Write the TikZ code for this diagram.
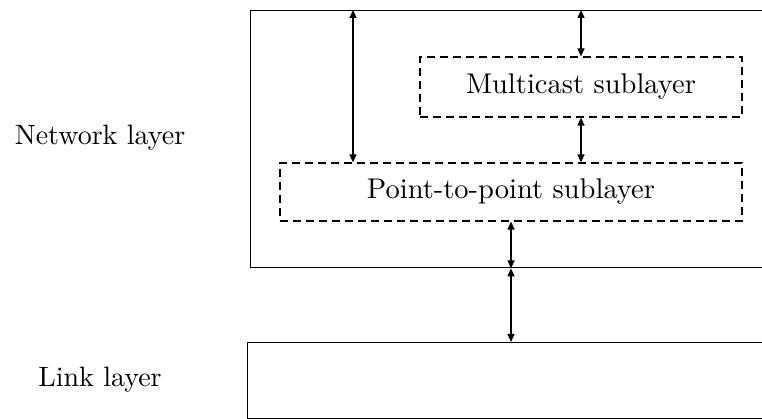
\documentclass[tikz,border=0pt]{standalone}
\usepackage{fontspec}
\newfontfamily\lmten{lmroman10-regular.otf}
\usetikzlibrary{arrows.meta}
\begin{document}
\begin{tikzpicture}[x=1pt,y=1pt,
  layerbox/.style={draw, line width=1.4pt, rectangle, inner sep=0pt},
  subbox/.style={draw, line width=1.2pt, dash pattern=on 8pt off 5pt, rectangle, inner sep=0pt, font=\lmten\fontsize{28.5}{32}\selectfont},
  lbl/.style={font=\lmten\fontsize{28}{32}\selectfont, inner sep=0pt},
  dbl/.style={line width=1.2pt, {Triangle[length=8pt,width=7pt]}-{Triangle[length=8pt,width=7pt]}}]
\clip (0,0) rectangle (762,419);
\useasboundingbox (0,0) rectangle (762,419);
\node[layerbox, minimum width=520pt, minimum height=257pt, anchor=north west] (net) at (250,409) {};
\node[layerbox, minimum width=523pt, minimum height=76pt, anchor=north west] (link) at (247,77) {};
\node[subbox, minimum width=322pt, minimum height=60pt] (mc) at (581,332) {Multicast sublayer};
\node[subbox, minimum width=462pt, minimum height=58pt] (ptp) at (511,227) {Point-to-point sublayer};
\node[lbl] (netlbl) at (100,281) {Network layer};
\node[lbl] (linklbl) at (100,39) {Link layer};
\coordinate (a1) at (353,0);
\draw[dbl] (net.north -| a1) -- (ptp.north -| a1);
\draw[dbl] (net.north -| mc.north) -- (mc.north);
\draw[dbl] (mc.south) -- (ptp.north -| mc.south);
\draw[dbl] (ptp.south) -- (net.south -| ptp.south);
\draw[dbl] (net.south -| ptp.south) -- (link.north -| ptp.south);
\end{tikzpicture}
\end{document}
